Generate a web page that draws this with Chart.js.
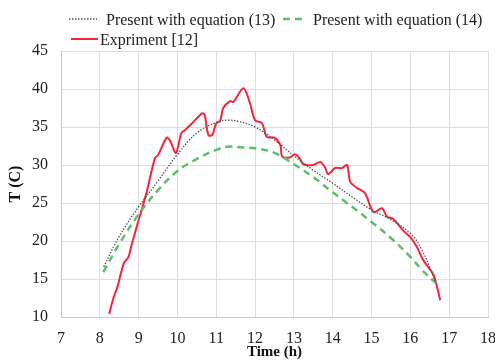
<!DOCTYPE html>
<html>
<head>
<meta charset="utf-8">
<script src="https://cdn.jsdelivr.net/npm/chart.js@4/dist/chart.umd.min.js"></script>
<style>
    html, body { margin: 0; padding: 0; background: #fff; }
    #wrap { width: 495px; height: 361px; position: relative; }
</style>
</head>
<body>
<div id="wrap"><canvas id="tempChart"></canvas></div>
<script>
// --- data ---
const xTicks = [7, 8, 9, 10, 11, 12, 13, 14, 15, 16, 17, 18];
const yTicks = [10, 15, 20, 25, 30, 35, 40, 45];

const eq13Time = [8.1, 8.5, 9.0, 9.5, 10.0, 10.5, 11.0, 11.3, 11.6, 12.0, 12.5, 13.0, 13.5, 14.0, 14.5, 15.0, 15.5, 16.0, 16.3, 16.65];
const eq13Temp = [16.6, 20.6, 24.5, 27.9, 31.4, 34.2, 35.6, 35.9, 35.7, 35.0, 33.3, 31.2, 29.3, 27.6, 25.8, 24.1, 22.8, 21.0, 18.8, 14.6];

const eq14Time = [8.09, 8.5, 9.0, 9.5, 10.0, 10.5, 11.0, 11.3, 11.7, 12.0, 12.5, 13.0, 13.5, 14.0, 14.5, 15.0, 15.5, 16.0, 16.3, 16.65];
const eq14Temp = [15.9, 19.6, 23.5, 26.7, 29.2, 30.8, 32.0, 32.4, 32.3, 32.2, 31.6, 30.1, 28.4, 26.4, 24.5, 22.5, 20.4, 17.9, 16.2, 14.5];

const expTime = [8.24, 8.35, 8.45, 8.62, 8.73, 8.83, 8.98, 9.2, 9.42, 9.5, 9.72, 9.8, 9.96, 10.1, 10.2, 10.4, 10.63, 10.7, 10.8, 10.9, 11.0, 11.1, 11.18, 11.36, 11.44, 11.7, 11.87,
                 12.0, 12.18, 12.3, 12.5, 12.65, 12.7, 12.9, 13.03, 13.16, 13.24, 13.5, 13.68, 13.8, 13.88, 14.06, 14.24, 14.37, 14.45, 14.62, 14.83, 15.05, 15.27, 15.4, 15.56, 15.81, 16.0, 16.17, 16.33, 16.57, 16.64, 16.77];
const expTemp = [10.4, 12.5, 13.9, 17.1, 17.8, 19.7, 22.4, 26.3, 30.9, 31.3, 33.6, 33.3, 31.6, 34.2, 34.6, 35.6, 36.8, 36.6, 33.9, 34.0, 35.5, 35.8, 37.5, 38.4, 38.3, 40.1, 38.1,
                 35.9, 35.5, 33.7, 33.6, 32.6, 31.1, 31.0, 31.4, 30.8, 30.1, 30.0, 30.4, 29.7, 28.8, 29.6, 29.6, 30.0, 27.8, 27.0, 26.3, 23.8, 24.3, 23.2, 22.9, 21.4, 20.5, 19.2, 17.5, 15.8, 14.9, 12.2];

const seriesLabels = ['Present with equation (13)', 'Present with equation (14)', 'Expriment [12]'];

const toPoints = (xs, ys) => xs.map((x, i) => ({ x: x, y: ys[i] }));

const SERIF = '"Liberation Serif", "Times New Roman", serif';

// legend drawn by hand so the two-row layout of the figure can be kept
const legendPlugin = {
    id: 'figureLegend',
    afterDraw(chart) {
        const ctx = chart.ctx;
        const rows = [
            { idx: 0, x: 69, y: 19, w: 28 },
            { idx: 1, x: 283, y: 19, w: 21 },
            { idx: 2, x: 71, y: 39, w: 27 }
        ];
        ctx.save();
        ctx.font = '16px ' + SERIF;
        ctx.textBaseline = 'middle';
        ctx.fillStyle = '#222';
        rows.forEach(r => {
            const ds = chart.data.datasets[r.idx];
            ctx.beginPath();
            ctx.setLineDash(ds.borderDash || []);
            ctx.lineWidth = ds.borderWidth;
            ctx.strokeStyle = ds.borderColor;
            ctx.moveTo(r.x, r.y);
            ctx.lineTo(r.x + r.w, r.y);
            ctx.stroke();
            ctx.setLineDash([]);
            const gap = r.idx === 2 ? 2 : 9;
            ctx.fillText(ds.label, r.x + r.w + gap, r.y + 2);
        });
        ctx.restore();
    }
};

const ctx = document.getElementById('tempChart').getContext('2d');
new Chart(ctx, {
    type: 'line',
    data: {
        datasets: [
            {
                label: seriesLabels[0],
                data: toPoints(eq13Time, eq13Temp),
                borderColor: '#555555',
                borderWidth: 1.3,
                borderDash: [1.5, 1.5],
                tension: 0.4,
                pointRadius: 0,
                fill: false
            },
            {
                label: seriesLabels[1],
                data: toPoints(eq14Time, eq14Temp),
                borderColor: '#5cbf6a',
                borderWidth: 2.5,
                borderDash: [7, 5],
                tension: 0.4,
                pointRadius: 0,
                fill: false
            },
            {
                label: seriesLabels[2],
                data: toPoints(expTime, expTemp),
                borderColor: '#f5263c',
                borderWidth: 2,
                tension: 0.3,
                pointRadius: 0,
                fill: false
            }
        ]
    },
    options: {
        responsive: true,
        maintainAspectRatio: false,
        animation: false,
        layout: { padding: { top: 51, right: 7, left: 0, bottom: 0 } },
        plugins: {
            legend: { display: false },
            tooltip: { enabled: false }
        },
        scales: {
            x: {
                type: 'linear',
                min: xTicks[0],
                max: xTicks[xTicks.length - 1],
                afterBuildTicks: scale => { scale.ticks = xTicks.map(v => ({ value: v })); },
                afterFit: scale => { scale.height = 44; scale.paddingRight = 0; scale.paddingLeft = 0; },
                grid: { color: '#dddddd', lineWidth: 1, drawTicks: false },
                border: { color: '#cccccc' },
                ticks: { padding: 12, color: '#222', font: { family: SERIF, size: 16 } },
                title: { display: true, text: 'Time (h)', color: '#111', padding: { top: 0, bottom: 0 }, font: { family: SERIF, size: 15, weight: 'bold' } }
            },
            y: {
                min: yTicks[0],
                max: yTicks[yTicks.length - 1],
                afterBuildTicks: scale => { scale.ticks = yTicks.map(v => ({ value: v })); },
                afterFit: scale => { scale.width = 61; },
                grid: { color: '#dddddd', lineWidth: 1, drawTicks: false },
                border: { color: '#cccccc' },
                ticks: { padding: 13, color: '#222', font: { family: SERIF, size: 16 } },
                title: { display: true, text: 'T (C)', color: '#111', padding: { top: 6, bottom: 0 }, font: { family: SERIF, size: 16, weight: 'bold' } }
            }
        }
    },
    plugins: [legendPlugin]
});
</script>
</body>
</html>
